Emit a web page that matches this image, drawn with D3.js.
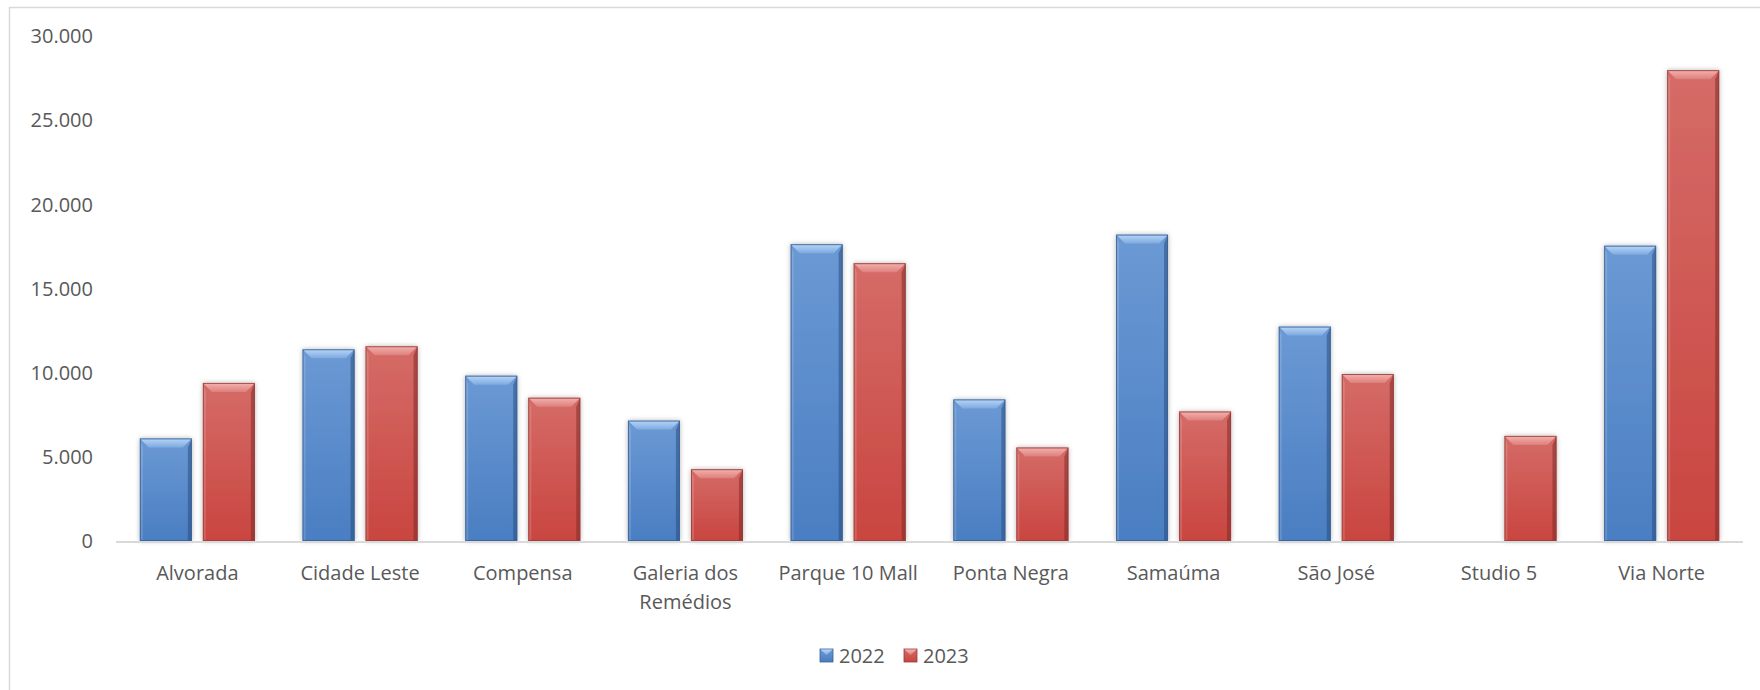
<!DOCTYPE html>
<html>
<head>
<meta charset="utf-8">
<script src="https://cdn.jsdelivr.net/npm/d3@7"></script>
<style>
  body { margin: 0; background: #fff; }
  svg { display: block; font-family: "Open Sans", sans-serif; }
</style>
</head>
<body>
<div id="chart"></div>
<script>
var categories = ["Alvorada","Cidade Leste","Compensa","Galeria dos Remédios","Parque 10 Mall","Ponta Negra","Samaúma","São José","Studio 5","Via Norte"]
var series = ["2022","2023"]
var v2022 = [6100, 11400, 9830, 7160, 17650, 8420, 18220, 12750, 0, 17560]
var v2023 = [9400, 11580, 8520, 4270, 16520, 5560, 7700, 9930, 6250, 28000]
var yTicks = [0, 5000, 10000, 15000, 20000, 25000, 30000]

var colors = {
  "2022": {top:"#6b99d4", bottom:"#4a7ec2", light:"#b8d6f7", mid:"#7eaae0", dark:"#24487a", edge:"#3a6194"},
  "2023": {top:"#d56b67", bottom:"#c94540", light:"#f5b2ae", mid:"#dc807c", dark:"#7a2624", edge:"#953e3b"}
}

var W = 1760, H = 690
var br = d3.formatLocale({decimal:",", thousands:".", grouping:[3], currency:["R$",""]})
var fmt = br.format(",")

var data = categories.map((c,i)=>({cat:c, vals:[{s:"2022",v:v2022[i]},{s:"2023",v:v2023[i]}]}))

var svg = d3.select("#chart").append("svg")
  .attr("width", W).attr("height", H)

var defs = svg.append("defs")
series.forEach(s=>{
  var g = defs.append("linearGradient").attr("id","body"+s)
    .attr("x1",0).attr("y1",0).attr("x2",0).attr("y2",1)
  g.append("stop").attr("offset","0%").attr("stop-color",colors[s].top)
  g.append("stop").attr("offset","100%").attr("stop-color",colors[s].bottom)
  var t = defs.append("linearGradient").attr("id","bevel"+s)
    .attr("x1",0).attr("y1",0).attr("x2",0).attr("y2",1)
  t.append("stop").attr("offset","0%").attr("stop-color",colors[s].light)
  t.append("stop").attr("offset","100%").attr("stop-color",colors[s].mid)
})
var f = defs.append("filter").attr("id","shadow")
  .attr("x","-20%").attr("y","-5%").attr("width","140%").attr("height","110%")
f.append("feDropShadow").attr("dx",0).attr("dy",0).attr("stdDeviation",2.5)
  .attr("flood-color","#000").attr("flood-opacity",0.3)

// chart frame
svg.append("rect")
  .attr("x",9.5).attr("y",7.5).attr("width",W).attr("height",H)
  .attr("fill","none").attr("stroke","#d9d9d9").attr("stroke-width",1.5)

var x0 = d3.scaleBand().domain(categories).range([116,1743])
  .paddingInner(0.293).paddingOuter(0.1465)
var x1 = d3.scaleBand().domain(series).range([0,x0.bandwidth()]).paddingInner(0.175)
var y = d3.scaleLinear().domain([0,30000]).range([541,36.5])

// y tick labels
var yAxis = svg.append("g")
  .attr("transform","translate(93,0)")
  .call(d3.axisLeft(y).tickValues(yTicks).tickFormat(fmt).tickSize(0).tickPadding(0))
yAxis.select(".domain").remove()
yAxis.selectAll("text")
  .attr("font-family","Open Sans, sans-serif")
  .attr("font-size",20).attr("fill","#595959")

// bars
function drawBar(g, x, yTop, w, y0, s){
  var h = y0 - yTop
  if (h <= 0) return
  var b = Math.min(9, h/2), side = 3
  var c = colors[s]
  g.append("rect").attr("x",x).attr("y",yTop).attr("width",w).attr("height",h)
    .attr("fill","url(#body"+s+")").attr("filter","url(#shadow)")
  g.append("path")
    .attr("d",`M${x},${yTop}L${x+side},${yTop+b}L${x+side},${y0}L${x},${y0}Z`)
    .attr("fill","#ffffff").attr("opacity",0.15)
  g.append("path")
    .attr("d",`M${x+w},${yTop}L${x+w-side-1},${yTop+b}L${x+w-side-1},${y0}L${x+w},${y0}Z`)
    .attr("fill",c.dark).attr("opacity",0.5)
  g.append("path")
    .attr("d",`M${x},${yTop}L${x+w},${yTop}L${x+w-b},${yTop+b}L${x+b},${yTop+b}Z`)
    .attr("fill","url(#bevel"+s+")")
  g.append("rect").attr("x",x+0.5).attr("y",yTop+0.5).attr("width",w-1).attr("height",h-1)
    .attr("fill","none").attr("stroke",c.edge).attr("stroke-width",1).attr("opacity",0.85)
}

var groups = svg.selectAll(".cat")
  .data(data)
  .enter()
  .append("g")
  .attr("class","cat")
  .attr("transform",d=>"translate("+x0(d.cat)+",0)")

groups.each(function(d){
  var g = d3.select(this)
  d.vals.forEach(v=>{
    drawBar(g.append("g"), x1(v.s), y(v.v), x1.bandwidth(), y(0), v.s)
  })
})

// x axis line
svg.append("line")
  .attr("x1",116).attr("x2",1743)
  .attr("y1",y(0)+1).attr("y2",y(0)+1)
  .attr("stroke","#d9d9d9").attr("stroke-width",2)

// category labels
var xAxis = svg.append("g")
  .attr("transform","translate(0,573)")
  .call(d3.axisBottom(x0).tickSize(0).tickPadding(0))
xAxis.select(".domain").remove()
xAxis.selectAll("text")
  .attr("font-family","Open Sans, sans-serif")
  .attr("font-size",20).attr("fill","#595959")
  .attr("dy","0.35em")
  .call(wrap, 160)

function wrap(texts, width){
  texts.each(function(){
    var text = d3.select(this)
    var words = text.text().split(/\s+/)
    var dy = text.attr("dy")
    text.text(null)
    var line = []
    var tspan = text.append("tspan").attr("x",0).attr("dy",dy)
    words.forEach(w=>{
      line.push(w)
      tspan.text(line.join(" "))
      if (tspan.node().getComputedTextLength() > width && line.length > 1){
        line.pop()
        tspan.text(line.join(" "))
        line = [w]
        tspan = text.append("tspan").attr("x",0).attr("dy","1.45em").text(w)
      }
    })
  })
}

// legend
var legend = svg.append("g").attr("transform","translate(820,649)")
var items = legend.selectAll(".item")
  .data(series)
  .enter()
  .append("g")
  .attr("transform",(d,i)=>"translate("+(i*84)+",0)")
items.each(function(s){
  var g = d3.select(this)
  g.append("rect").attr("width",13).attr("height",13).attr("fill","url(#body"+s+")")
    .attr("stroke",colors[s].edge).attr("stroke-width",0.8)
  g.append("path").attr("d","M0.5,0.5L12.5,0.5L6.5,6Z").attr("fill","url(#bevel"+s+")")
})
items.append("text")
  .text(d=>d)
  .attr("x",19).attr("y",7)
  .attr("dy","0.35em")
  .attr("font-size",20).attr("fill","#595959")
</script>
</body>
</html>
